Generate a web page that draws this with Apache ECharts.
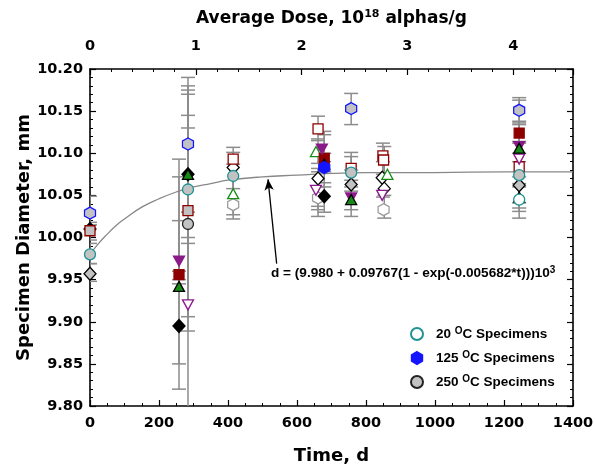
<!DOCTYPE html>
<html>
<head>
<meta charset="utf-8">
<script src="https://cdn.jsdelivr.net/npm/echarts@6/dist/echarts.min.js"></script>
<style>
  html, body { margin: 0; padding: 0; background: #fff; }
  #main { width: 595px; height: 466px; }
</style>
</head>
<body>
<div id="main"></div>
<script>
// time axis (bottom) and dose axis (top)
var timeTicks = [0, 200, 400, 600, 800, 1000, 1200, 1400];
var doseTicks = [0, 1, 2, 3, 4];
var doseMax = 4.565;

// fitted curve
var curveT = [0, 25, 50, 75, 100, 150, 200, 250, 300, 350, 400, 500, 600, 700, 800, 1000, 1200, 1400];
var curveD = [9.980, 9.993, 10.004, 10.014, 10.022, 10.036, 10.046, 10.054, 10.060, 10.064, 10.068, 10.072, 10.074, 10.076, 10.077, 10.077, 10.078, 10.078];

// specimens, [time, diameter]
var tealGrayCircle = [[0, 9.980], [284, 10.057], [415, 10.073], [757, 10.077], [1244, 10.074]];
var tealOpenCircle = [[1244, 10.045]];
var blueGrayHex = [[0, 10.029], [284, 10.111], [757, 10.153], [1244, 10.151]];
var blueHex = [[679, 10.083]];
var redOpenSquare = [[415, 10.093], [661, 10.129], [757, 10.082], [849, 10.097], [851, 10.092], [1244, 10.084]];
var redGraySquare = [[0, 10.008], [284, 10.032]];
var redSquare = [[258, 9.956], [679, 10.094], [1244, 10.124]];
var grayCircle = [[284, 10.016]];
var grayDiamond = [[0, 9.957], [757, 10.063], [1244, 10.062]];
var openDiamond = [[415, 10.083], [661, 10.070], [847, 10.071], [853, 10.058]];
var blackDiamond = [[0, 10.010], [258, 9.895], [284, 10.075], [679, 10.049]];
var greenTriangle = [[258, 9.942], [284, 10.075], [679, 10.087], [757, 10.045], [1244, 10.106], [1244, 10.048]];
var greenOpenTriangle = [[415, 10.052], [655, 10.102], [862, 10.075]];
var purpleDown = [[258, 9.972], [672, 10.105], [757, 10.047], [1244, 10.108]];
var purpleOpenDown = [[284, 9.920], [655, 10.056], [847, 10.050], [1244, 10.093]];
var whiteHex = [[415, 10.039], [661, 10.047], [851, 10.033]];

// error bars, [time, low, high]
var errorBars = [
  [0, 10.015, 10.049], [0, 9.997, 10.018], [0, 9.969, 9.993], [0, 9.948, 9.969],
  [258, 9.820, 10.093], [258, 9.850, 10.072], [258, 9.945, 10.020], [258, 9.950, 9.960],
  [284, 9.889, 10.190], [284, 9.906, 10.180], [284, 9.993, 10.175], [284, 9.790, 10.170],
  [284, 10.030, 10.145], [284, 10.000, 10.130],
  [415, 10.027, 10.107], [415, 10.022, 10.101], [415, 10.058, 10.087],
  [661, 10.115, 10.144], [661, 10.088, 10.117], [661, 10.037, 10.082], [661, 10.033, 10.078], [661, 10.025, 10.060],
  [679, 10.078, 10.126], [679, 10.090, 10.122], [679, 10.060, 10.100], [679, 10.030, 10.065],
  [757, 10.134, 10.171], [757, 10.060, 10.101], [757, 10.055, 10.096], [757, 10.033, 10.080], [757, 10.025, 10.068],
  [849, 10.075, 10.112], [853, 10.070, 10.108], [849, 10.048, 10.090], [853, 10.023, 10.050],
  [1244, 10.136, 10.166], [1244, 10.112, 10.163], [1244, 10.090, 10.138], [1244, 10.072, 10.134],
  [1244, 10.060, 10.114], [1244, 10.035, 10.100], [1244, 10.023, 10.064], [1244, 10.031, 10.041]
];

var FONT = "'Liberation Sans', Arial, sans-serif";
var WIDE = "'DejaVu Sans', Verdana, sans-serif";
var HEX = 'path://M0,-10L8.66,-5L8.66,5L0,10L-8.66,5L-8.66,-5Z';
var TEAL = '#1f9393', BLUE = '#1414ff', DRED = '#8e0000', GREEN = '#168c16', PURPLE = '#8a1a8a', GRAY = '#c2c2c2';

var chart = echarts.init(document.getElementById('main'));

function renderErr(params, api) {
  var lo = api.coord([api.value(0), api.value(1)]);
  var hi = api.coord([api.value(0), api.value(2)]);
  var w = 7;
  var st = { stroke: '#8c8c8c', lineWidth: 1.5, fill: null };
  return {
    type: 'group',
    children: [
      { type: 'line', shape: { x1: lo[0], y1: lo[1], x2: hi[0], y2: hi[1] }, style: st },
      { type: 'line', shape: { x1: lo[0] - w, y1: lo[1], x2: lo[0] + w, y2: lo[1] }, style: st },
      { type: 'line', shape: { x1: hi[0] - w, y1: hi[1], x2: hi[0] + w, y2: hi[1] }, style: st }
    ]
  };
}

function pts(name, data, symbol, size, fill, border, rotate) {
  return {
    name: name,
    type: 'scatter',
    data: data,
    symbol: symbol,
    symbolSize: size,
    symbolRotate: rotate || 0,
    z: 5,
    itemStyle: { color: fill, borderColor: border, borderWidth: 1.3, opacity: 1 }
  };
}

var axisLine = { show: true, onZero: false, lineStyle: { color: '#000', width: 1.6 } };
var tick = { show: true, inside: true, length: 6, lineStyle: { color: '#000', width: 1.2 } };
var minor = { show: true, splitNumber: 5, length: 3, lineStyle: { color: '#000', width: 1 } };
var lbl = { color: '#000', fontFamily: WIDE, fontWeight: 'bold', fontSize: 14.5 };
var nameStyle = { color: '#000', fontFamily: WIDE, fontWeight: 'bold', fontSize: 18 };

var option = {
  animation: false,
  backgroundColor: '#fff',
  grid: { left: 90, right: 22, top: 69, bottom: 60, outerBoundsMode: 'none', containLabel: false },
  legend: {
    data: ['20 °C Specimens', '125 °C Specimens', '250 °C Specimens'],
    orient: 'vertical',
    left: 405,
    top: 321,
    itemWidth: 12,
    itemHeight: 12,
    itemGap: 9,
    textStyle: {
      color: '#000', fontFamily: FONT, fontWeight: 'bold', fontSize: 13.5, padding: [0, 0, 0, 8],
      rich: { s: { fontSize: 10, fontWeight: 'bold', fontFamily: FONT, verticalAlign: 'top', padding: [0, 0, 6, 0] } }
    },
    formatter: function (n) { return n.replace('°', '{s|O}'); }
  },
  xAxis: [
    {
      type: 'value', min: 0, max: 1400, interval: 200,
      name: 'Time, d', nameLocation: 'middle', nameGap: 41, nameTextStyle: nameStyle,
      axisLine: axisLine, axisTick: tick, minorTick: Object.assign({}, minor, { splitNumber: 4 }),
      axisLabel: Object.assign({ margin: 10, formatter: function (v) { return String(v); } }, lbl),
      splitLine: { show: false }
    },
    {
      type: 'value', position: 'top', min: 0, max: doseMax, interval: 1,
      name: '{a|Average Dose, 10}{s|18}{a| alphas/g}', nameLocation: 'middle', nameGap: 41,
      nameTextStyle: {
        rich: {
          a: Object.assign({}, nameStyle, { fontSize: 17 }),
          s: { color: '#000', fontFamily: WIDE, fontWeight: 'bold', fontSize: 11, verticalAlign: 'top', padding: [0, 0, 8, 0] }
        }
      },
      axisLine: axisLine, axisTick: tick, minorTick: minor,
      axisLabel: Object.assign({ margin: 15, showMaxLabel: false }, lbl),
      splitLine: { show: false }
    }
  ],
  yAxis: [
    {
      type: 'value', min: 9.8, max: 10.2, interval: 0.05,
      name: 'Specimen Diameter, mm', nameLocation: 'middle', nameGap: 57, nameMoveOverlap: false,
      nameTextStyle: nameStyle,
      axisLine: axisLine, axisTick: tick, minorTick: minor,
      axisLabel: Object.assign({ margin: 7, formatter: function (v) { return v.toFixed(2); } }, lbl),
      splitLine: { show: false }
    },
    {
      type: 'value', position: 'right', min: 9.8, max: 10.2, interval: 0.05,
      axisLine: axisLine, axisTick: tick, minorTick: minor,
      axisLabel: { show: false }, splitLine: { show: false }
    }
  ],
  graphic: [
    {
      type: 'text', left: 271, top: 265, z: 10,
      style: {
        text: '{a|d = (9.980 + 0.09767(1 - exp(-0.005682*t)))10}{s|3}',
        rich: {
          a: { fill: '#000', fontFamily: FONT, fontWeight: 'bold', fontSize: 13.6 },
          s: { fill: '#000', fontFamily: FONT, fontWeight: 'bold', fontSize: 10, verticalAlign: 'top', padding: [0, 0, 6, 0] }
        }
      }
    }
  ],
  series: [
    {
      name: 'errors', type: 'custom', renderItem: renderErr, data: errorBars,
      encode: { x: 0, y: [1, 2] }, clip: true, z: 1, silent: true
    },
    {
      name: 'fit', type: 'line', smooth: true, symbol: 'none', z: 2,
      data: curveT.map(function (t, i) { return [t, curveD[i]]; }),
      lineStyle: { color: '#888', width: 1.3 },
      markLine: {
        silent: true, symbol: ['none', 'arrow'], symbolSize: [7, 11],
        label: { show: false },
        lineStyle: { color: '#000', width: 1.3, type: 'solid' },
        data: [[{ coord: [541, 9.969] }, { coord: [516, 10.069] }]]
      }
    },
    pts('whiteHex', whiteHex, HEX, [11, 12], '#fff', '#9a9a9a'),
    pts('openDiamond', openDiamond, 'diamond', [12, 13], '#fff', '#000'),
    pts('redOpenSquare', redOpenSquare, 'rect', [10, 10], '#fff', DRED),
    pts('greenOpenTriangle', greenOpenTriangle, 'triangle', [11, 10], '#fff', GREEN),
    pts('purpleOpenDown', purpleOpenDown, 'triangle', [11, 10], '#fff', PURPLE, 180),
    pts('grayDiamond', grayDiamond, 'diamond', [12, 13], GRAY, '#000'),
    pts('blackDiamond', blackDiamond, 'diamond', [12, 13], '#000', '#000'),
    pts('redGraySquare', redGraySquare, 'rect', [10, 10], GRAY, DRED),
    pts('redSquare', redSquare, 'rect', [10, 10], DRED, DRED),
    pts('purpleDown', purpleDown, 'triangle', [11, 10], PURPLE, PURPLE, 180),
    pts('greenTriangle', greenTriangle, 'triangle', [11, 10], GREEN, '#000'),
    pts('250 °C Specimens', grayCircle, 'circle', 11, GRAY, '#222'),
    pts('20 °C Specimens', tealOpenCircle, 'circle', 11, '#fff', TEAL),
    pts('tealGray', tealGrayCircle, 'circle', 11, GRAY, TEAL),
    pts('125 °C Specimens', blueHex, HEX, [11, 12], BLUE, BLUE),
    pts('blueGrayHex', blueGrayHex, HEX, [11, 12], GRAY, BLUE)
  ]
};

chart.setOption(option);
</script>
</body>
</html>
